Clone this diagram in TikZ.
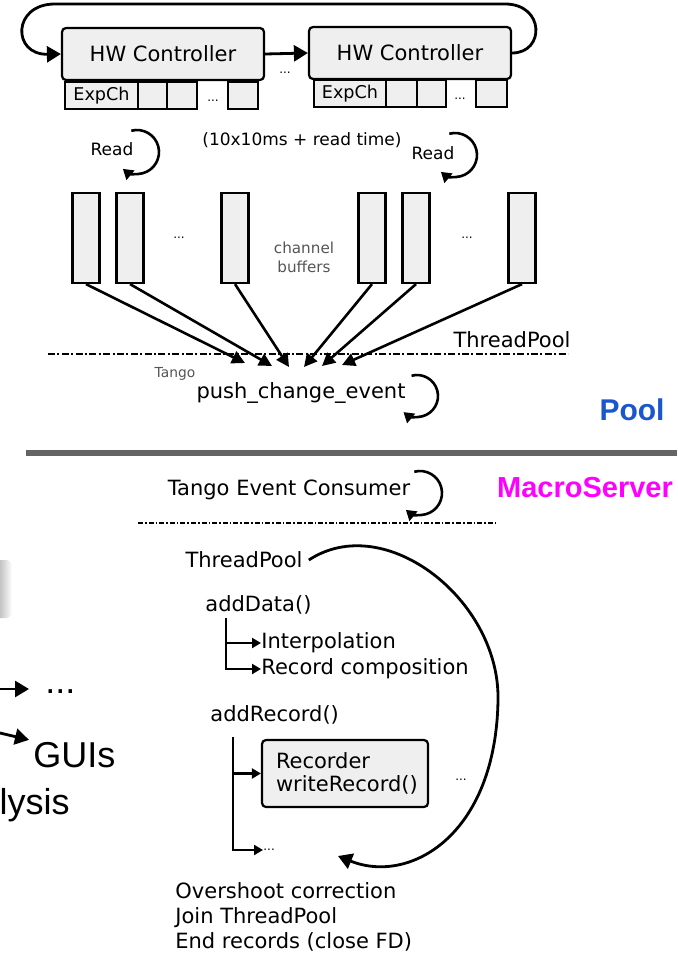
\documentclass[tikz,border=0pt]{standalone}
\usepackage{fontspec}
\setmainfont{DejaVu Sans}
\newfontfamily\arialfont{Liberation Sans}
\usetikzlibrary{positioning,arrows.meta}

\definecolor{boxgray}{HTML}{EFEFEF}
\definecolor{poolblue}{HTML}{1A56CC}
\definecolor{msmagenta}{HTML}{FF00FF}
\definecolor{rulegray}{HTML}{646464}
\definecolor{txtgray}{HTML}{555555}

\tikzset{
  ctrlbox/.style={draw, fill=boxgray, rounded corners=2pt, line width=1.1pt,
    minimum width=101pt, minimum height=26pt, inner sep=0pt,
    font=\fontsize{10.5}{12}\selectfont},
  cellbox/.style={draw, fill=boxgray, line width=1.1pt, minimum height=13.5pt,
    inner sep=0pt, outer sep=0pt, font=\fontsize{8.8}{10}\selectfont},
  bufbox/.style={draw, fill=boxgray, line width=1.1pt, minimum width=13.5pt,
    minimum height=45pt, inner sep=0pt},
  recbox/.style={draw, fill=boxgray, rounded corners=2pt, line width=1.1pt,
    minimum width=83pt, minimum height=33.5pt, text width=69pt, align=left,
    inner sep=0pt, font=\fontsize{10.5}{11.5}\selectfont},
  txt/.style={inner sep=0pt, font=\fontsize{10.5}{12}\selectfont},
  smalltxt/.style={inner sep=0pt, font=\fontsize{8.5}{10}\selectfont},
  greytxt/.style={inner sep=0pt, text=txtgray, font=\fontsize{7.6}{9.5}\selectfont},
  dots/.style={inner sep=0pt, font=\fontsize{6}{7}\selectfont},
  bigtxt/.style={inner sep=0pt, font=\arialfont\fontsize{18}{20}\selectfont},
  flow/.style={line width=1.4pt, -{Triangle[width=8pt,length=7pt]}},
  push/.style={line width=1.3pt, -{Triangle[width=6.5pt,length=6.5pt]}},
  treearrow/.style={line width=1.3pt, -{Triangle[width=5pt,length=4.5pt]}},
  cyc/.style={line width=1.3pt, -{Triangle[width=6pt,length=5pt]}},
  sepline/.style={line width=1.3pt, dash pattern=on 3.5pt off 1.2pt on 1pt off 1.2pt},
}

\begin{document}
\begin{tikzpicture}[x=0.5pt,y=-0.5pt]
    \useasboundingbox (0,0) rectangle (677,953);

    % HW controllers
    \node[ctrlbox] (ctrl1) at (163,54) {HW Controller};
    \node[ctrlbox] (ctrl2) at (410,53) {HW Controller};
    \draw[flow] (ctrl1.east) -- (ctrl2.west);
    \node[dots] (ctrldots) at (285,73) {...};
    \draw[flow] (ctrl2.east) .. controls (545,53) and (545,4) .. (505,4)
        -- (55,4) .. controls (12,4) and (12,55) .. (ctrl1.west);

    % Experimental channels
    \node[cellbox, minimum width=36.5pt] (exp1) at (101.5,95.5) {ExpCh};
    \node[cellbox, minimum width=14.5pt, right=0pt of exp1] (ch1a) {};
    \node[cellbox, minimum width=15pt, right=0pt of ch1a] (ch1b) {};
    \node[cellbox, minimum width=15pt] (ch1n) at (243,95.5) {};
    \node[dots] (chdots1) at (213,101) {...};
    \node[cellbox, minimum width=36pt] (exp2) at (350,93.5) {ExpCh};
    \node[cellbox, minimum width=15.5pt, right=0pt of exp2] (ch2a) {};
    \node[cellbox, minimum width=14.5pt, right=0pt of ch2a] (ch2b) {};
    \node[cellbox, minimum width=15.5pt] (ch2n) at (491.5,93.5) {};
    \node[dots] (chdots2) at (460,99) {...};

    % Read loops
    \node[smalltxt] (read1) at (112,149) {Read};
    \coordinate (rd1c) at (137,152);
    \draw[cyc] ([shift={(-105:22)}]rd1c) arc[start angle=-105,end angle=130,radius=22];
    \node[smalltxt] (readtime) at (302,140) {(10x10ms + read time)};
    \node[smalltxt] (read2) at (433,153) {Read};
    \coordinate (rd2c) at (455,155);
    \draw[cyc] ([shift={(-105:22)}]rd2c) arc[start angle=-105,end angle=130,radius=22];

    % Channel buffers
    \foreach \i/\x in {1/86,2/130,3/235,4/372,5/416,6/522}
        \node[bufbox] (buf\i) at (\x,238) {};
    \node[dots] (bufdots1) at (179,238) {...};
    \node[dots] (bufdots2) at (467,238) {...};
    \node[greytxt, align=center] (chbuf) at (304,257) {channel\\buffers};

    % Arrows into the push
    \foreach \i/\x/\y in {1/245/363,2/272/366,3/289/367,4/304/367,5/322/366,6/342/365}
        \coordinate (tip\i) at (\x,\y);
    \foreach \i in {1,...,6}
        \draw[push] (buf\i.south) -- (tip\i);

    % Pool threadpool
    \node[txt] (tp1) at (512,340) {ThreadPool};
    \draw[sepline] (48,354) -- (568,354);
    \node[greytxt, font=\fontsize{6.9}{8}\selectfont] (tango) at (175,374) {Tango};
    \node[txt] (pushev) at (301,393) {push\_change\_event};
    \coordinate (pec) at (417,396);
    \draw[cyc] ([shift={(-105:21)}]pec) arc[start angle=-105,end angle=130,radius=21];
    \node[inner sep=0pt, text=poolblue, font=\arialfont\bfseries\fontsize{15}{17}\selectfont] (pool) at (632,410) {Pool};

    % Separator
    \draw[rulegray, line width=3pt] (26,453) -- (677,453);

    % MacroServer side
    \node[txt] (consumer) at (289,490) {Tango Event Consumer};
    \coordinate (cec) at (420,493);
    \draw[cyc] ([shift={(-105:22)}]cec) arc[start angle=-105,end angle=130,radius=22];
    \node[inner sep=0pt, text=msmagenta, font=\arialfont\bfseries\fontsize{14.5}{17}\selectfont] (ms) at (585,488) {MacroServer};
    \draw[sepline, line width=0.9pt, dash pattern=on 2.5pt off 1pt on 0.8pt off 1pt] (138,523) -- (498,523);

    \node[txt] (tp2) at (244,560) {ThreadPool};
    \coordinate (loopend) at (338,856);
    \draw[flow] ([xshift=3pt]tp2.east) .. controls (385,510) and (500,600) .. (498,700)
        .. controls (496,835) and (410,885) .. (loopend);

    % addData
    \node[txt, anchor=west] (adddata) at (205,605) {addData()};
    \node[txt, anchor=west] (interp) at (261,643) {Interpolation};
    \node[txt, anchor=west] (reccomp) at (261,669) {Record composition};
    \coordinate (t1top) at (226,618);
    \draw[treearrow] (t1top) |- (reccomp.west);
    \draw[treearrow] (t1top |- interp.west) -- (interp.west);

    % addRecord
    \node[txt, anchor=west] (addrec) at (210,715) {addRecord()};
    \node[recbox] (rec) at (345,773.5) {Recorder\\writeRecord()};
    \node[dots] (recdots) at (461,780) {...};
    \node[dots, anchor=west] (moredots) at (263,850) {...};
    \coordinate (t2top) at (233,737);
    \draw[treearrow] (t2top) |- (moredots.west);
    \draw[treearrow] (t2top |- rec.west) -- (rec.west);

    % End of scan
    \node[txt, anchor=west, align=left, font=\fontsize{10.5}{12.5}\selectfont] (endscan) at (175,917)
        {Overshoot correction\\Join ThreadPool\\End records (close FD)};

    % Cut-off part at the left
    \shade[left color=gray!70, right color=white, rounded corners=3pt] (-6,560) rectangle (12,618);
    \node[bigtxt, anchor=west] (leftdots) at (45,692) {...};
    \coordinate (lin1) at (0,689);
    \draw[flow] (lin1) -- ([xshift=-8pt]lin1 -| leftdots.west);
    \node[bigtxt, anchor=west] (guis) at (33,755) {GUIs};
    \coordinate (lin2) at (0,733);
    \draw[flow] (lin2) -- ([shift={(-2pt,1pt)}]guis.north west);
    \node[bigtxt, anchor=base east] (lysis) at (70,814) {lysis};
\end{tikzpicture}
\end{document}
